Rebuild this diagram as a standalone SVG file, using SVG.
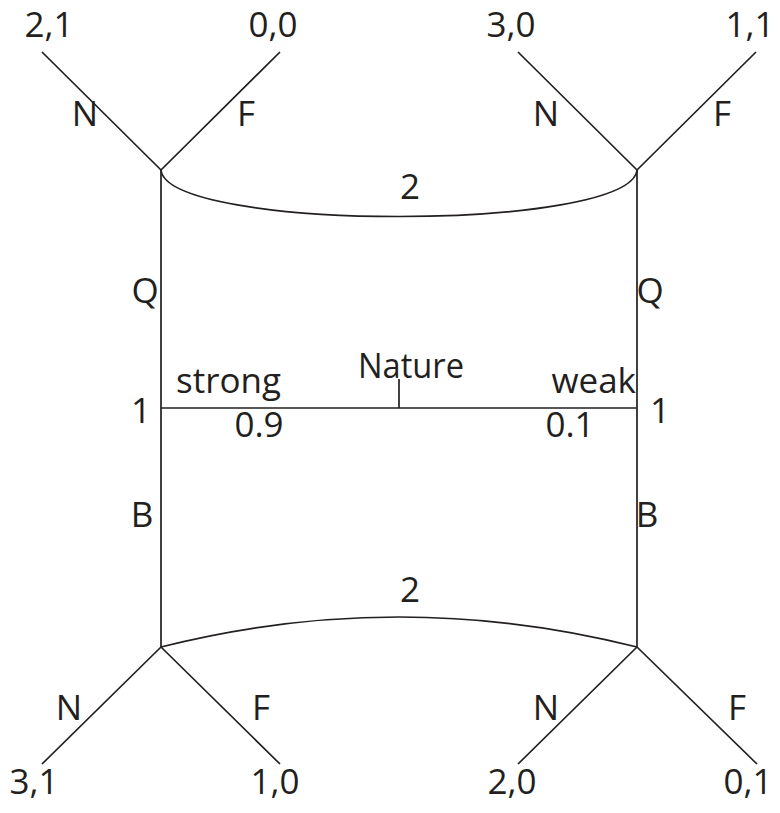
<svg xmlns="http://www.w3.org/2000/svg" width="780" height="813" viewBox="0 0 780 813">
<style>
.l{stroke:#231f20;stroke-width:1.7;fill:none;stroke-linecap:butt}
text{font-family:"Open Sans","Liberation Sans",sans-serif;font-size:35px;fill:#231f20;text-anchor:middle}
.s{text-anchor:start}
.e{text-anchor:end}
</style>
<rect width="780" height="813" fill="#ffffff"/>
<g id="connectors">
<path class="l" d="M161,170 L42,52 M161,170 L280,52"/>
<path class="l" d="M637,170 L518,52 M637,170 L756,52"/>
<path class="l" d="M161,647 L42,764 M161,647 L280,764"/>
<path class="l" d="M637,647 L518,764 M637,647 L757,764"/>
<path class="l" d="M161,170 V647 M637,170 V647 M161,408 H637"/>
<path class="l" d="M399,379 V408"/>
<path class="l" d="M161,170 C168,232 630,232 637,170"/>
<path class="l" d="M161,647 Q399,587 637,647"/>
</g>
<g id="nature">
<text x="411" y="378" textLength="106" lengthAdjust="spacingAndGlyphs">Nature</text>
<text class="s" x="176" y="393">strong</text>
<text class="e" x="636" y="393">weak</text>
<text x="259" y="437">0.9</text>
<text x="570" y="437">0.1</text>
</g>
<g id="info-sets">
<text x="410" y="199">2</text>
<text x="410" y="602">2</text>
</g>
<g id="player1-strong">
<text x="141" y="423">1</text>
<text x="145" y="303">Q</text>
<text x="142" y="527">B</text>
</g>
<g id="player1-weak">
<text x="660" y="423">1</text>
<text x="650" y="303">Q</text>
<text x="647" y="527">B</text>
</g>
<g id="node-top-left">
<text x="85" y="126">N</text>
<text x="246" y="126">F</text>
<text x="49" y="37">2,1</text>
<text x="273" y="37">0,0</text>
</g>
<g id="node-top-right">
<text x="546" y="126">N</text>
<text x="722" y="126">F</text>
<text x="511" y="37">3,0</text>
<text x="750" y="37">1,1</text>
</g>
<g id="node-bottom-left">
<text x="69" y="720">N</text>
<text x="261" y="720">F</text>
<text x="34" y="794">3,1</text>
<text x="275" y="794">1,0</text>
</g>
<g id="node-bottom-right">
<text x="546" y="720">N</text>
<text x="737" y="720">F</text>
<text x="512" y="794">2,0</text>
<text x="748" y="794">0,1</text>
</g>
</svg>
